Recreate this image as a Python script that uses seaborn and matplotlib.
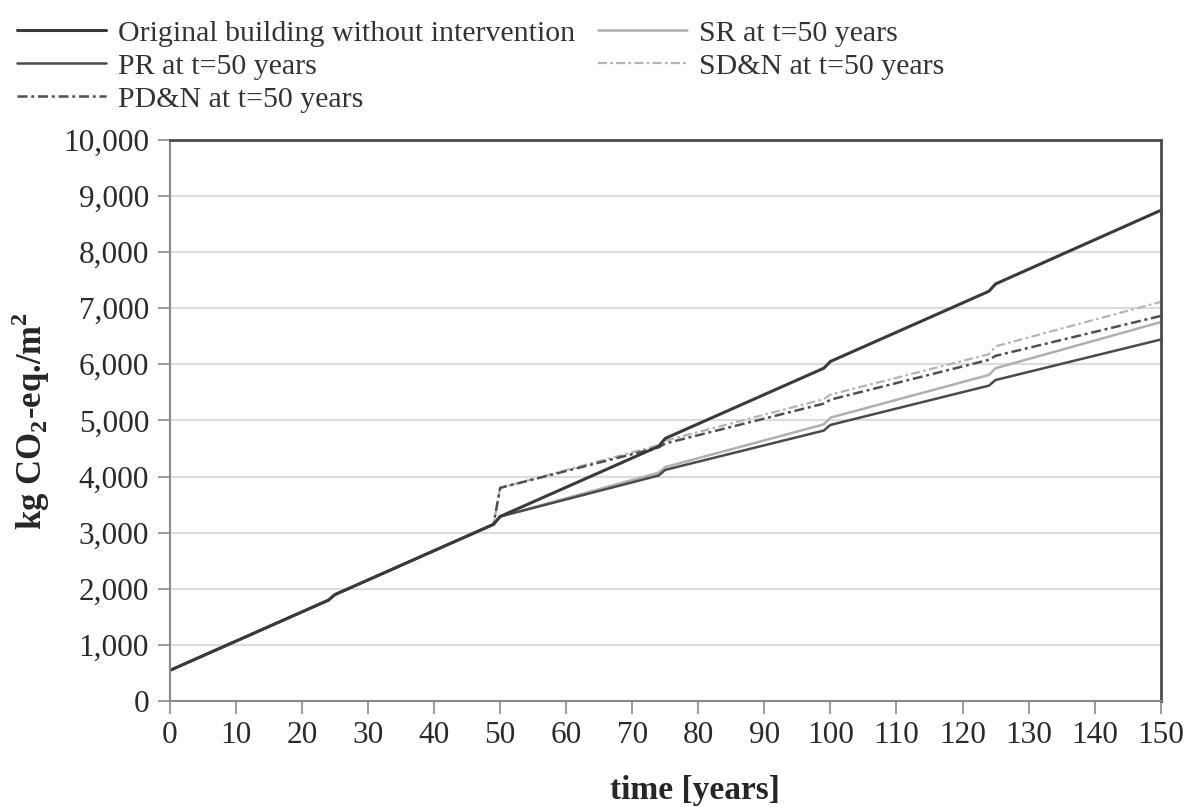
import seaborn as sns
import pandas as pd
import matplotlib.pyplot as plt
from matplotlib.ticker import MultipleLocator, FuncFormatter

# years (kinks at every component replacement, every 25 years)
years = [0, 24, 25, 49, 50, 74, 75, 99, 100, 124, 125, 150]

# kg CO2-eq./m2
original = [550, 1800, 1900, 3150, 3290, 4540, 4680, 5930, 6050, 7300, 7430, 8740]
pr = [550, 1800, 1900, 3150, 3290, 4020, 4120, 4820, 4920, 5620, 5720, 6440]
sr = [550, 1800, 1900, 3150, 3290, 4070, 4170, 4930, 5050, 5810, 5930, 6750]
sdn = [550, 1800, 1900, 3150, 3800, 4560, 4640, 5380, 5460, 6180, 6320, 7110]
pdn = [550, 1800, 1900, 3150, 3800, 4520, 4590, 5300, 5370, 6080, 6150, 6860]

labels = ["Original building without intervention", "PR at t=50 years",
          "PD&N at t=50 years", "SR at t=50 years", "SD&N at t=50 years"]

sns.set_theme(style="white")
plt.rcParams['font.family'] = ['Liberation Serif', 'DejaVu Serif']
plt.rcParams['mathtext.fontset'] = 'custom'
plt.rcParams['mathtext.rm'] = 'Liberation Serif'
plt.rcParams['mathtext.bf'] = 'Liberation Serif:bold'

fig = plt.figure(figsize=(11.88, 8.07), dpi=100)
ax = fig.add_axes([0.143, 0.131, 0.834, 0.696])

#series: values, colour, width, dashes
series = [
    (original, "#3a3a3a", 2.2, None),
    (pr, "#4a4a4a", 1.8, None),
    (pdn, "#505050", 1.8, (4, 1.5, 1.2, 1.5)),
    (sr, "#b0b0b0", 1.8, None),
    (sdn, "#b4b4b4", 1.6, (4, 1.5, 1.2, 1.5)),
]

# draw the alternatives first, original on top
order = [3, 4, 1, 2, 0]
handles = {}
for i in order:
    vals, col, lw, dash = series[i]
    df = pd.DataFrame({"t": years, "v": vals})
    sns.lineplot(data=df, x="t", y="v", ax=ax, color=col, linewidth=lw,
                 label=labels[i], legend=False)
    line = ax.lines[-1]
    if dash is not None:
        line.set_dashes(dash)
    handles[i] = line

ax.set_xlim(0, 150)
ax.set_ylim(0, 10000)
ax.xaxis.set_major_locator(MultipleLocator(10))
ax.xaxis.set_minor_locator(MultipleLocator(5))
ax.yaxis.set_major_locator(MultipleLocator(1000))
ax.yaxis.set_minor_locator(MultipleLocator(200))
ax.yaxis.set_major_formatter(FuncFormatter(lambda v, p: f"{int(v):,}"))
ax.grid(axis="y", color="#dcdcdc", linewidth=1.5)
ax.set_axisbelow(True)

for s in ["left", "bottom"]:
    ax.spines[s].set_color("#8a8a8a")
    ax.spines[s].set_linewidth(1.5)
for s in ["top", "right"]:
    ax.spines[s].set_color("#4a4a4a")
    ax.spines[s].set_linewidth(2)

ax.tick_params(axis="both", which="both", direction="out", color="#8a8a8a",
               labelsize=22.5, labelcolor="#2a2a2a")
ax.tick_params(axis="both", which="major", length=9, width=1.2)
ax.tick_params(axis="both", which="minor", length=6, width=1.2)
ax.tick_params(axis="x", pad=5)
ax.tick_params(axis="y", pad=6)
ax.tick_params(left=True, bottom=True)

ax.set_xlabel("time [years]", fontsize=24, fontweight="bold", labelpad=18)
ax.xaxis.label.set_x(0.53)
ax.set_ylabel(r"kg CO$_\mathbf{2}$-eq./m$^\mathbf{2}$", fontsize=25,
              fontweight="bold", labelpad=8)

fig.legend([handles[i] for i in range(5)], labels, ncol=2, loc="upper left",
           bbox_to_anchor=(-0.006, 1.005), frameon=False, fontsize=21.5,
           handlelength=3.0, handletextpad=0.4, columnspacing=0.75,
           labelspacing=0.2, borderpad=0.3, labelcolor="#333333")

fig.savefig("out.png", dpi=100)
